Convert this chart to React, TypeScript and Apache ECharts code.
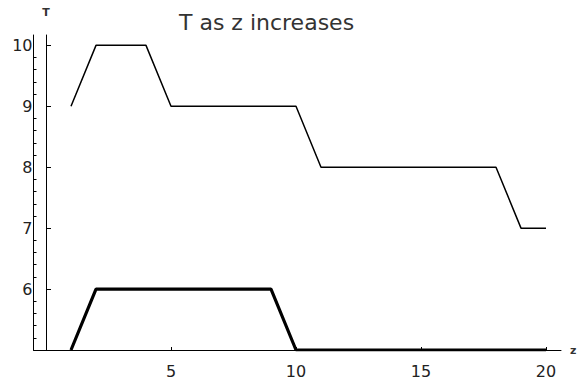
import React, { useEffect, useRef } from "react";
import * as echarts from "echarts";

const zValues = [1, 2, 4, 5, 10, 11, 18, 19, 20];
const upperT = [9, 10, 10, 9, 9, 8, 8, 7, 7];
const lowerZ = [1, 2, 9, 10, 20];
const lowerT = [5, 6, 6, 5, 5];
const xTickLabels = [5, 10, 15, 20];
const yTickLabels = [6, 7, 8, 9, 10];
const yMinorTicks = [
  5.2, 5.4, 5.6, 5.8, 6.2, 6.4, 6.6, 6.8, 7.2, 7.4, 7.6, 7.8, 8.2, 8.4, 8.6, 8.8,
  9.2, 9.4, 9.6, 9.8,
];

const FONT = "DejaVu Sans";

export default function App() {
  const ref = useRef<HTMLDivElement>(null);
  useEffect(() => {
    if (!ref.current) return;
    const chart = echarts.init(ref.current, undefined, { renderer: "svg" });
    const yMin = 5;
    const yMax = 10.17;
    const axisLineStyle = { color: "#000", width: 1 };
    chart.setOption({
      animation: false,
      backgroundColor: "#fff",
      title: {
        text: "T as z increases",
        left: 174,
        top: 6,
        textStyle: { fontFamily: FONT, fontSize: 22, fontWeight: "normal", color: "#333" },
      },
      grid: {
        left: 33.5,
        right: 17,
        top: 35,
        bottom: 35,
        containLabel: false,
        outerBoundsMode: "none",
      },
      xAxis: {
        type: "value",
        min: -0.5,
        max: 20.6,
        name: "z",
        nameLocation: "end",
        nameGap: 9,
        nameTextStyle: { fontFamily: FONT, fontSize: 11, color: "#333", fontWeight: "bold" },
        splitLine: { show: false },
        axisLine: { onZero: false, lineStyle: axisLineStyle },
        axisTick: { inside: true, length: 3, customValues: xTickLabels, lineStyle: axisLineStyle },
        axisLabel: {
          customValues: xTickLabels,
          margin: 13,
          fontFamily: FONT,
          fontSize: 16,
          color: "#222",
        },
      },
      yAxis: [
        {
          type: "value",
          min: yMin,
          max: yMax,
          position: "left",
          name: "T",
          nameLocation: "end",
          nameGap: 17,
          nameTextStyle: { fontFamily: FONT, fontSize: 11, color: "#333", fontWeight: "bold", align: "center" },
          splitLine: { show: false },
          axisLine: { onZero: true, lineStyle: axisLineStyle },
          axisTick: { inside: true, length: 5, customValues: yTickLabels, lineStyle: axisLineStyle },
          axisLabel: {
            customValues: yTickLabels,
            margin: 1,
            fontFamily: FONT,
            fontSize: 16,
            color: "#222",
          },
        },
        {
          type: "value",
          min: yMin,
          max: yMax,
          position: "left",
          splitLine: { show: false },
          axisLine: { onZero: true, lineStyle: axisLineStyle },
          axisTick: { inside: true, length: 3, customValues: yMinorTicks, lineStyle: axisLineStyle },
          axisLabel: { show: false },
        },
      ],
      series: [
        {
          type: "line",
          data: zValues.map((z, i) => [z, upperT[i]]),
          showSymbol: false,
          symbol: "none",
          lineStyle: { color: "#000", width: 1.5 },
          silent: true,
        },
        {
          type: "line",
          data: lowerZ.map((z, i) => [z, lowerT[i]]),
          showSymbol: false,
          symbol: "none",
          lineStyle: { color: "#000", width: 3.2 },
          silent: true,
        },
      ],
    });
    return () => chart.dispose();
  }, []);
  return <div ref={ref} style={{ width: 578, height: 385, position: "absolute", left: 0, top: 0 }} />;
}
